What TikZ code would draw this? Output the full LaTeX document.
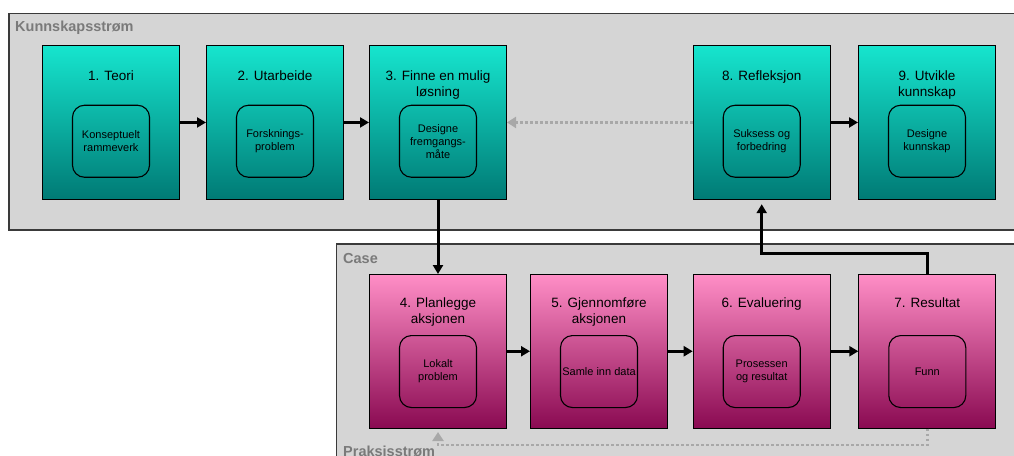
\documentclass[tikz,border=0pt]{standalone}
\usepackage{fontspec}
\setmainfont{Liberation Sans}
\usetikzlibrary{arrows.meta}
\definecolor{tealtop}{HTML}{16E5CE}
\definecolor{tealbot}{HTML}{007A75}
\definecolor{pinktop}{HTML}{FF8EC6}
\definecolor{pinkbot}{HTML}{8A0A52}
\definecolor{lanefill}{HTML}{D5D5D5}
\definecolor{laneline}{HTML}{3A3A3A}
\definecolor{lanetext}{HTML}{7A7A7A}
\definecolor{backflow}{HTML}{A8A8A8}
\tikzset{
  lane/.style={fill=lanefill, draw=laneline, line width=1.2pt},
  lanelabel/.style={font=\bfseries\fontsize{14.5}{16}\selectfont, text=lanetext, anchor=west, inner sep=0pt},
  stage/.style={draw=black, line width=1pt, minimum width=137pt, minimum height=153.5pt,
    inner sep=0pt, anchor=north west},
  know/.style={stage, top color=tealtop, bottom color=tealbot},
  act/.style={stage, top color=pinktop, bottom color=pinkbot},
  stagetitle/.style={font=\fontsize{13.5}{16}\selectfont, align=center, anchor=north, inner sep=0pt},
  core/.style={draw=black, rounded corners=12pt, line width=1.1pt, minimum width=77pt,
    minimum height=72pt, align=center, anchor=north, inner sep=1pt,
    font=\fontsize{11}{13}\selectfont},
  flow/.style={line width=3pt, draw=black, -{Triangle[length=9pt,width=10pt]}},
  feedback/.style={line width=2.5pt, draw=backflow, dash pattern=on 2.5pt off 2.5pt,
    -{Triangle[length=9pt,width=11pt]}},
}
\begin{document}
\begin{tikzpicture}[x=1pt, y=-1pt]
\clip (0,0) rectangle (1014,455);
\fill[white] (0,0) rectangle (1014,455);

% swim lanes
\draw[lane] (9,13.3) rectangle (1030,230);
\draw[lane] (336.7,244) rectangle (1030,470);
\node[lanelabel] (lk) at (15,28) {Kunnskapsstrøm};
\node[lanelabel] (lc) at (343,258.3) {Case};
\node[lanelabel] (lp) at (343,451) {Praksisstrøm};

% knowledge stream
\node[know] (b1) at (42,45.2) {};
\node[know] (b2) at (206,45.2) {};
\node[know] (b3) at (369,45.2) {};
\node[know] (b8) at (692.7,45.2) {};
\node[know] (b9) at (858,45.2) {};

% case stream
\node[act] (b4) at (369,274) {};
\node[act] (b5) at (530,274) {};
\node[act] (b6) at (692.7,274) {};
\node[act] (b7) at (858.3,274) {};

% titles
\node[stagetitle] (t1) at ([yshift=-25pt]b1.north) {1. Teori};
\node[stagetitle] (t2) at ([yshift=-25pt]b2.north) {2. Utarbeide};
\node[stagetitle] (t3) at ([yshift=-25pt]b3.north) {3. Finne en mulig\\løsning};
\node[stagetitle] (t8) at ([yshift=-25pt]b8.north) {8. Refleksjon};
\node[stagetitle] (t9) at ([yshift=-25pt]b9.north) {9. Utvikle\\kunnskap};
\node[stagetitle] (t4) at ([yshift=-24pt]b4.north) {4. Planlegge\\aksjonen};
\node[stagetitle] (t5) at ([yshift=-24pt]b5.north) {5. Gjennomføre\\aksjonen};
\node[stagetitle] (t6) at ([yshift=-24pt]b6.north) {6. Evaluering};
\node[stagetitle] (t7) at ([yshift=-24pt]b7.north) {7. Resultat};

% inner cores
\node[core] (c1) at ([yshift=-59.5pt]b1.north) {Konseptuelt\\rammeverk};
\node[core] (c2) at ([yshift=-59.5pt]b2.north) {Forsknings-\\problem};
\node[core] (c3) at ([yshift=-59.5pt]b3.north) {Designe\\fremgangs-\\måte};
\node[core] (c8) at ([yshift=-59.5pt]b8.north) {Suksess og\\forbedring};
\node[core] (c9) at ([yshift=-59.5pt]b9.north) {Designe\\kunnskap};
\node[core] (c4) at ([yshift=-61pt]b4.north) {Lokalt\\problem};
\node[core] (c5) at ([yshift=-61pt]b5.north) {Samle inn data};
\node[core] (c6) at ([yshift=-61pt]b6.north) {Prosessen\\og resultat};
\node[core] (c7) at ([yshift=-61pt]b7.north) {Funn};

% forward flow
\draw[flow] (b1.east) -- (b2.west);
\draw[flow] (b2.east) -- (b3.west);
\draw[flow] (b8.east) -- (b9.west);
\draw[flow] (b3.south) -- (b4.north);
\draw[flow] (b4.east) -- (b5.west);
\draw[flow] (b5.east) -- (b6.west);
\draw[flow] (b6.east) -- (b7.west);
\draw[flow, shorten >=4.5pt] (b7.north) -- ++(0,-20.7) -| (b8.south);

% feedback loops
\draw[feedback] (b8.west) -- (b3.east);
\draw[feedback, shorten >=3.5pt] (b7.south) -- ++(0,16.5) -| (b4.south);
\end{tikzpicture}
\end{document}
